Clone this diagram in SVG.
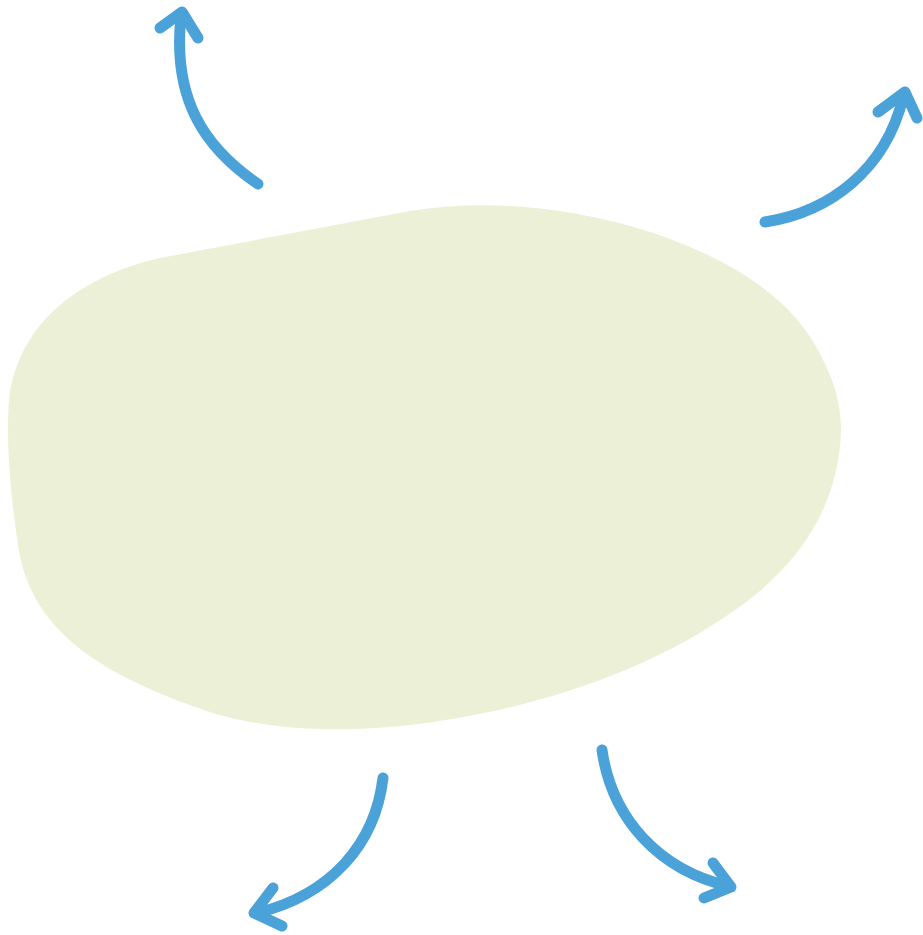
<svg xmlns="http://www.w3.org/2000/svg" width="923" height="935" viewBox="0 0 923 935">
<style>
.arr{fill:none;stroke:#4AA2D9;stroke-width:11;stroke-linecap:round;stroke-linejoin:round}
</style>
<rect width="923" height="935" fill="#fff"/>
<g id="blob">
<path fill="#ECF0D6" d="M160,258 L410,211 C560,186 755,245 812,340 C832,373 841,400 841,430 C839,505 800,565 735,610 C640,678 510,716 390,727 C300,734 240,724 190,705 C100,672 30,630 18,545 C10,490 6,440 9,400 C18,320 85,275 160,258 Z"/>
</g>
<g id="connectors">
<path class="arr" d="M258,184 C205,148 172,100 181,16"/>
<polyline class="arr" points="160,28 182,12 198,38"/>
<path class="arr" d="M765,222 C830,212 885,170 903,98"/>
<polyline class="arr" points="878,112 905,92 917,118"/>
<path class="arr" d="M383,778 C375,845 330,895 257,913"/>
<polyline class="arr" points="273,888 254,913 282,926"/>
<path class="arr" d="M602,750 C612,820 660,870 728,886"/>
<polyline class="arr" points="713,863 731,887 704,898"/>
</g>
</svg>
